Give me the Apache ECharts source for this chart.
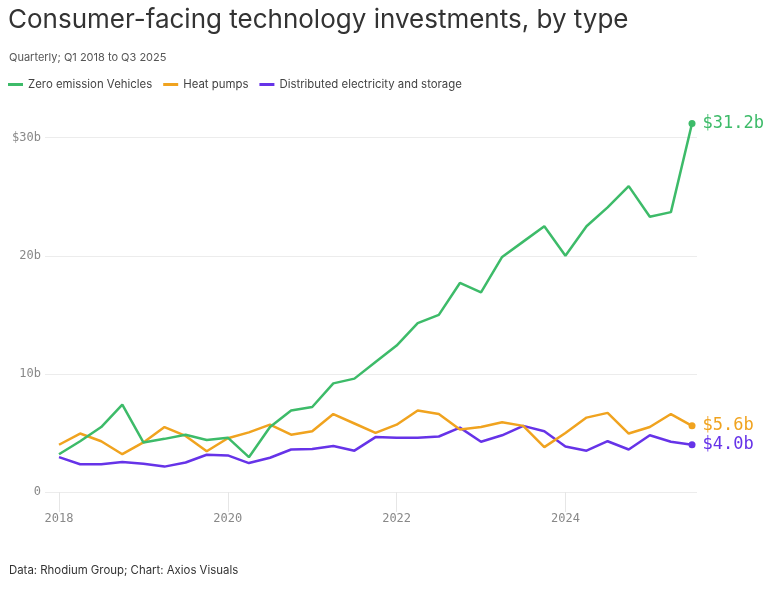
<!DOCTYPE html>
<html>
<head>
<meta charset="utf-8">
<script src="https://cdn.jsdelivr.net/npm/echarts@6/dist/echarts.min.js"></script>
<style>
html,body{margin:0;padding:0;background:#fff;}
#chart{width:775px;height:590px;}
</style>
</head>
<body>
<div id="chart"></div>
<script>
// Quarters Q1 2018 .. Q3 2025 (31 quarters)
const startYear = 2018;
const quarterCount = 31;
const quarters = [];
for (let i = 0; i < quarterCount; i++) {
  quarters.push('Q' + (i % 4 + 1) + ' ' + (startYear + Math.floor(i / 4)));
}

// Values in $ billions
const zeroEmissionVehicles = [3.2, 4.3, 5.5, 7.4, 4.2, 4.5, 4.85, 4.4, 4.6, 2.95, 5.5, 6.9, 7.2, 9.2, 9.6, 11.0, 12.4, 14.3, 15.0, 17.7, 16.9, 19.9, 21.2, 22.5, 20.0, 22.5, 24.1, 25.9, 23.3, 23.7, 31.2];
const heatPumps = [4.0, 4.95, 4.3, 3.2, 4.2, 5.5, 4.75, 3.45, 4.55, 5.05, 5.7, 4.85, 5.15, 6.6, 5.8, 5.0, 5.7, 6.9, 6.6, 5.3, 5.5, 5.9, 5.6, 3.8, 5.0, 6.3, 6.7, 4.95, 5.5, 6.6, 5.6];
const distributedElectricity = [2.95, 2.35, 2.35, 2.55, 2.4, 2.15, 2.5, 3.15, 3.1, 2.45, 2.9, 3.6, 3.65, 3.9, 3.5, 4.65, 4.6, 4.6, 4.7, 5.45, 4.25, 4.8, 5.6, 5.15, 3.85, 3.5, 4.3, 3.6, 4.8, 4.25, 4.0];

const seriesNames = ['Zero emission Vehicles', 'Heat pumps', 'Distributed electricity and storage'];
const seriesColors = ['#3dbb69', '#f0a31f', '#6633e8'];
const yTicks = [0, 10, 20, 30];
const yTickLabels = ['0', '10b', '20b', '$30b'];
const xTickYears = [2018, 2020, 2022, 2024];

function quarterX(i) { return startYear + i / 4; }

function buildData(values, color) {
  return values.map((v, i) => {
    const pt = { value: [quarterX(i), v] };
    if (i === values.length - 1) {
      pt.symbol = 'circle';
      pt.symbolSize = 7;
      pt.itemStyle = { color: color };
      pt.label = {
        show: true,
        position: 'right',
        distance: 7,
        formatter: '$' + v.toFixed(1) + 'b',
        color: color,
        fontFamily: 'DejaVu Sans Mono',
        fontSize: 17
      };
    } else {
      pt.symbol = 'none';
    }
    return pt;
  });
}

const allValues = [zeroEmissionVehicles, heatPumps, distributedElectricity];

const chart = echarts.init(document.getElementById('chart'), null, { renderer: 'canvas' });
chart.setOption({
  backgroundColor: '#fff',
  animation: false,
  title: [
    { text: 'Consumer-facing technology investments, by type', left: 3, top: 2,
      textStyle: { fontFamily: 'Inter', fontSize: 26, fontWeight: 'normal', color: '#333' } },
    { text: 'Quarterly; Q1 2018 to Q3 2025', left: 4, top: 47,
      textStyle: { fontFamily: 'Inter', fontSize: 11, fontWeight: 'normal', color: '#555' } },
    { text: 'Data: Rhodium Group; Chart: Axios Visuals', left: 4, top: 560,
      textStyle: { fontFamily: 'Inter', fontSize: 11.4, fontWeight: 'normal', color: '#333' } }
  ],
  legend: {
    left: 3, top: 74,
    icon: 'rect',
    itemWidth: 15, itemHeight: 3,
    itemGap: 11,
    textStyle: { fontFamily: 'Inter', fontSize: 11.4, color: '#444' },
    data: seriesNames
  },
  grid: { left: 45, right: 78, top: 137.7, bottom: 98, containLabel: false },
  xAxis: {
    type: 'value',
    min: 2017.834,
    max: 2025.559,
    axisLine: { show: false },
    splitLine: { show: false },
    axisTick: { show: true, customValues: xTickYears, length: 20, lineStyle: { color: '#e6e6e6', width: 1 } },
    axisLabel: { customValues: xTickYears, margin: 21, color: '#888', fontFamily: 'DejaVu Sans Mono', fontSize: 12,
      formatter: v => String(v) }
  },
  yAxis: {
    type: 'value',
    min: 0, max: 30, interval: 10,
    axisLine: { show: false },
    axisTick: { show: false },
    splitLine: { lineStyle: { color: '#ececec', width: 1 } },
    axisLabel: { margin: 4, color: '#888', fontFamily: 'DejaVu Sans Mono', fontSize: 12,
      formatter: v => yTickLabels[yTicks.indexOf(v)] }
  },
  series: seriesNames.map((name, k) => ({
    name: name,
    type: 'line',
    color: seriesColors[k],
    clip: false,
    showSymbol: true,
    lineStyle: { width: 2.5, color: seriesColors[k] },
    emphasis: { disabled: true },
    z: 10 - k,
    data: buildData(allValues[k], seriesColors[k])
  }))
});
</script>
</body>
</html>
